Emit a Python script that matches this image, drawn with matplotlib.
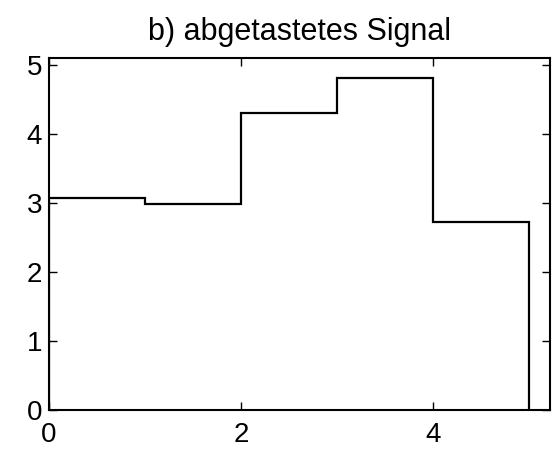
import numpy as np
import matplotlib
matplotlib.use("Agg")
import matplotlib.pyplot as plt

plt.rcParams['font.family'] = ['Liberation Sans', 'DejaVu Sans']

edges = [0, 1, 2, 3, 4, 5]
levels = [3.07, 2.98, 4.30, 4.81, 2.73]
xticks = [0, 2, 4]
yticks = [0, 1, 2, 3, 4, 5]

fig = plt.figure(figsize=(5.56, 4.5), dpi=100)
ax = fig.add_axes([0.088, 0.089, 0.901, 0.782])

ax.stairs(levels, edges, baseline=0, color='black', linewidth=1.6)

ax.set_xlim(0, 5.22)
ax.set_ylim(0, 5.1)
ax.set_xticks(xticks)
ax.set_yticks(yticks)
ax.tick_params(direction='in', top=True, right=True, length=5.5, width=1,
               labelsize=20)
ax.tick_params(axis='x', pad=9)
ax.tick_params(axis='y', pad=5)
for s in ax.spines.values():
    s.set_linewidth(1.5)

ax.set_title("b) abgetastetes Signal", fontsize=22, pad=13)

fig.savefig("out.png", dpi=100)
